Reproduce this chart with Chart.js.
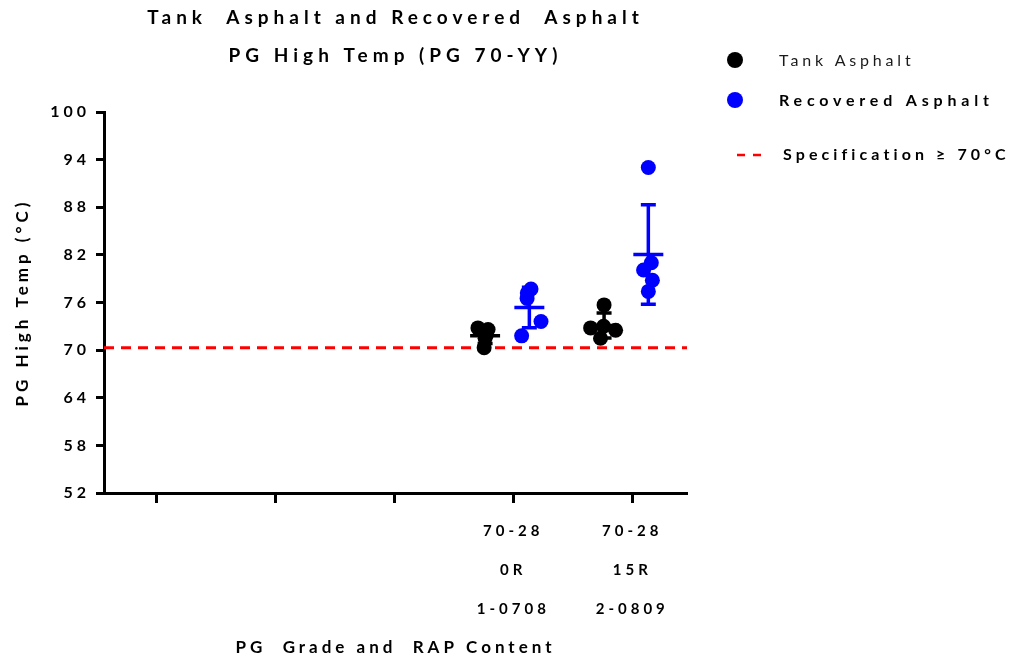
<!DOCTYPE html>
<html>
<head>
<meta charset="utf-8">
<script src="https://cdn.jsdelivr.net/npm/chart.js@4.4.1/dist/chart.umd.min.js"></script>
<style>
  body { margin: 0; background: #fff; }
</style>
</head>
<body>
<canvas id="grafica" width="1017" height="661"></canvas>
<script>
// values
var xTickLabels = [[''], [''], [''], ['70-28', '0R', '1-0708'], ['70-28', '15R', '2-0809']];
var groupPositions = [3, 4];
var tankValues = [[72.8, 72.6, 71.9, 71.5, 70.3], [75.7, 73.0, 72.8, 72.5, 71.5]];
var tankJitter = [[-0.06, 0.025, 0.01, 0, -0.008], [0, -0.004, -0.113, 0.097, -0.03]];
var recoveredValues = [[77.7, 77.2, 76.5, 73.6, 71.8], [93.0, 81.0, 80.1, 78.8, 77.4]];
var recoveredJitter = [[0.014, -0.017, -0.019, 0.098, -0.065], [0, 0.025, -0.04, 0.034, 0]];
var specValue = 70.3;
var titleLines = ['Tank  Asphalt and Recovered  Asphalt', 'PG High Temp (PG 70-YY)'];

var tankOffset = -0.237, recOffset = 0.135;

function points(values, jitter, offset) {
    var out = [];
    values.forEach(function(g, i){
        g.forEach(function(v, j){
            out.push({x: groupPositions[i] + offset + jitter[i][j], y: v});
        });
    });
    return out;
}

// mean line + SD whiskers, separated by gaps
function meanSd(values, offset) {
    var out = [];
    values.forEach(function(g, i){
        var c = groupPositions[i] + offset;
        var m = g.reduce(function(a, b){ return a + b; }, 0) / g.length;
        var sd = Math.sqrt(g.reduce(function(a, b){ return a + (b - m) * (b - m); }, 0) / (g.length - 1));
        out.push({x: c - 0.126, y: m}, {x: c + 0.126, y: m}, {x: c, y: null});
        out.push({x: c, y: m - sd}, {x: c, y: m + sd}, {x: c, y: null});
        out.push({x: c - 0.063, y: m + sd}, {x: c + 0.063, y: m + sd}, {x: c, y: null});
        out.push({x: c - 0.063, y: m - sd}, {x: c + 0.063, y: m - sd}, {x: c, y: null});
    });
    return out;
}

var spacing = {
    id: 'spacing',
    beforeLayout: function(c){ c.ctx.letterSpacing = '4px'; },
    beforeDraw: function(c){ c.ctx.letterSpacing = '4px'; }
};

var textos = {
    id: 'textos',
    afterDraw: function(c){
        var ctx = c.ctx;
        var area = c.chartArea;
        ctx.save();
        ctx.textBaseline = 'middle';
        // title
        ctx.textAlign = 'center';
        ctx.fillStyle = '#000';
        ctx.font = 'bold 19px Lato';
        ctx.letterSpacing = '5px';
        var cx = (area.left + area.right) / 2;
        ctx.fillText(titleLines[0], cx, 18);
        ctx.fillText(titleLines[1], cx, 56);
        // legend
        ctx.textAlign = 'left';
        ctx.beginPath(); ctx.arc(735, 60, 8, 0, Math.PI * 2); ctx.fill();
        ctx.fillStyle = '#0000ff';
        ctx.beginPath(); ctx.arc(735, 100, 8, 0, Math.PI * 2); ctx.fill();
        ctx.strokeStyle = '#ff0000';
        ctx.lineWidth = 2.5;
        ctx.beginPath();
        ctx.moveTo(737, 155); ctx.lineTo(745, 155);
        ctx.moveTo(753, 155); ctx.lineTo(761, 155);
        ctx.stroke();
        ctx.fillStyle = '#1a1a1a';
        ctx.letterSpacing = '3.8px';
        ctx.font = '16px Lato';
        ctx.fillText('Tank Asphalt', 779, 61);
        ctx.fillStyle = '#000';
        ctx.font = 'bold 16px Lato';
        ctx.letterSpacing = '4.8px';
        ctx.fillText('Recovered Asphalt', 779, 101);
        ctx.letterSpacing = '4.1px';
        ctx.fillText('Specification \u2265 70\u00B0C', 783, 155);
        ctx.restore();
    }
};

var ctx = document.getElementById('grafica').getContext('2d');
var chart = new Chart(ctx, {
    data: {
        datasets: [
            {type: 'line', data: meanSd(tankValues, tankOffset), borderColor: '#000', borderWidth: 3.5,
             pointRadius: 0, spanGaps: false, order: 0, borderCapStyle: 'butt'},
            {type: 'line', data: meanSd(recoveredValues, recOffset), borderColor: '#0000ff', borderWidth: 3.5,
             pointRadius: 0, spanGaps: false, order: 0, borderCapStyle: 'butt'},
            {type: 'scatter', label: 'Tank Asphalt', data: points(tankValues, tankJitter, tankOffset),
             backgroundColor: '#000', borderWidth: 0, pointRadius: 7.5, order: 1},
            {type: 'scatter', label: 'Recovered Asphalt', data: points(recoveredValues, recoveredJitter, recOffset),
             backgroundColor: '#0000ff', borderWidth: 0, pointRadius: 7.5, order: 1},
            {type: 'line', label: 'Specification', data: [{x: -0.44, y: specValue}, {x: 4.46, y: specValue}],
             borderColor: '#ff0000', borderWidth: 3, borderDash: [10, 7], pointRadius: 0, order: 2}
        ]
    },
    options: {
        responsive: false,
        animation: false,
        layout: {padding: {top: 112, right: 330, bottom: 0, left: 0}},
        plugins: {
            legend: {display: false},
            tooltip: {enabled: false},
            title: {display: false}
        },
        scales: {
            x: {
                type: 'linear',
                min: -0.44,
                max: 4.46,
                afterBuildTicks: function(s){ s.ticks = [0, 1, 2, 3, 4].map(function(v){ return {value: v}; }); },
                afterFit: function(s){ s.height = 168; },
                ticks: {
                    callback: function(v){ return xTickLabels[v] || ''; },
                    color: '#000',
                    font: {family: 'Lato', size: 15, weight: 'bold', lineHeight: 2.6},
                    padding: 9,
                    maxRotation: 0,
                    autoSkip: false
                },
                grid: {drawOnChartArea: false, tickLength: 10, tickWidth: 3, color: '#000'},
                border: {color: '#000', width: 3},
                title: {
                    display: true,
                    text: 'PG  Grade and  RAP Content',
                    color: '#000',
                    font: {family: 'Lato', size: 17, weight: 'bold'},
                    padding: {top: 0, bottom: 3}
                }
            },
            y: {
                min: 52,
                max: 100,
                afterFit: function(s){ s.width = 104; },
                ticks: {
                    stepSize: 6,
                    color: '#000',
                    font: {family: 'Lato', size: 16, weight: 'bold'},
                    padding: 6
                },
                grid: {drawOnChartArea: false, tickLength: 8, tickWidth: 3, color: '#000'},
                border: {color: '#000', width: 3},
                title: {
                    display: true,
                    text: 'PG High Temp (\u00B0C)',
                    color: '#000',
                    font: {family: 'Lato', size: 17, weight: 'bold'},
                    padding: {top: 12, bottom: 0}
                }
            }
        }
    },
    plugins: [spacing, textos]
});
</script>
</body>
</html>
